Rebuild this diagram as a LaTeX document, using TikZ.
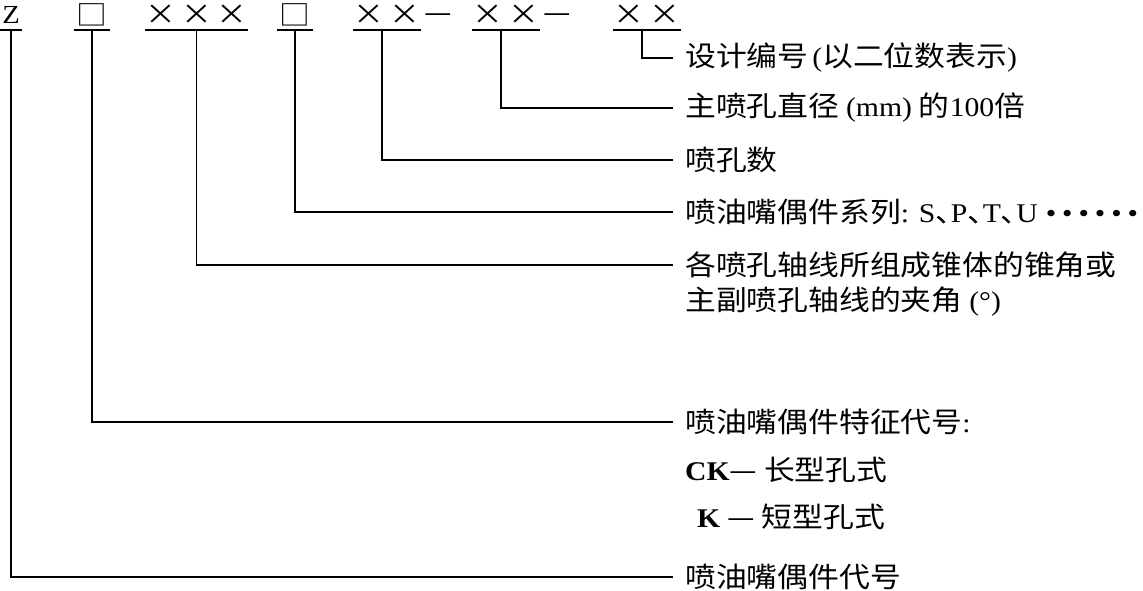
\documentclass[tikz,border=0pt]{standalone}
\usepackage{fontspec}
\setmainfont[FakeStretch=1.1]{Liberation Serif}
\newfontfamily\cjk[FakeStretch=1.1]{Noto Sans CJK SC}
\newfontfamily\cjkhalf[FakeStretch=1.1,RawFeature=+halt]{Noto Sans CJK SC}
\usetikzlibrary{positioning}
\newcommand\dun{{\cjkhalf 、}}
\newcommand\lat[1]{{\rmfamily\fontsize{27}{30}\selectfont #1}}

\begin{document}
\begin{tikzpicture}[
  x=1pt, y=-1pt,
  code/.style={inner sep=0pt, minimum height=30pt, font=\cjk\fontsize{28}{30}\selectfont},
  lab/.style={anchor=west, inner xsep=12pt, inner ysep=0pt, font=\cjk\fontsize{28}{34}\selectfont},
  ln/.style={draw=black, line width=1.8pt},
]
\useasboundingbox (0,0) rectangle (1143,591);

% ---- code row ----
\node[code, minimum width=22pt] (z) at (11,15) {\rmfamily\fontsize{26}{28}\selectfont Z};
\node[code, minimum width=36pt] (sqa) at (92,15) {□};
\node[code, minimum width=103pt] (xxx) at (196.5,15) {×\hspace{5pt}×\hspace{5pt}×};
\node[code, minimum width=36pt] (sqb) at (295,15) {□};
\node[code, minimum width=68pt] (xxa) at (387,15) {×\hspace{5pt}×};
\node[code, minimum width=68pt] (xxb) at (506,15) {×\hspace{5pt}×};
\node[code, minimum width=68pt] (xxc) at (647,15) {×\hspace{5pt}×};
\node[code, minimum height=20pt] (dsa) at (438,18) {—};
\node[code, minimum height=20pt] (dsb) at (557,18) {—};
\foreach \n in {z,sqa,xxx,sqb,xxa,xxb,xxc}
  \draw[ln] (\n.south west) -- (\n.south east);

% ---- labels ----
\node[lab] (lab1) at (673,58) {设计编号\hspace{4pt}\lat{(}以二位数表示\lat{)}};
\node[lab] (lab2) at (673,108) {主喷孔直径 \lat{(mm)} 的\lat{100}倍};
\node[lab] (lab3) at (673,160) {喷孔数};
\node[lab] (lab4) at (673,212) {喷油嘴偶件系列\lat{: S}\dun\lat{P}\dun\lat{T}\dun\lat{U\hspace{8pt}•\hspace{6pt}•\hspace{6pt}•\hspace{6pt}•\hspace{6pt}•\hspace{6pt}•}};
\node[lab] (lab5) at (673,265) {各喷孔轴线所组成锥体的锥角或};
\node[lab, below=8pt of lab5.south west, anchor=north west] (lab5b) {主副喷孔轴线的夹角 \lat{(°)}};
\node[lab] (lab6) at (673,422) {喷油嘴偶件特征代号\lat{:}};
\node[lab] (lab6a) at (673,470) {\lat{\bfseries CK}— 长型孔式};
\node[lab] (lab6b) at (685,517) {\lat{\bfseries K} — 短型孔式};
\node[lab] (lab7) at (673,577) {喷油嘴偶件代号};

% ---- leaders ----
\draw[ln] ([xshift=-5pt]xxc.south) |- (lab1.west);
\draw[ln] ([xshift=-5pt]xxb.south) |- (lab2.west);
\draw[ln] ([xshift=-5pt]xxa.south) |- (lab3.west);
\draw[ln] (sqb.south) |- (lab4.west);
\draw[ln] (xxx.south) |- (lab5.west);
\draw[ln] (sqa.south) |- (lab6.west);
\draw[ln] (z.south) |- (lab7.west);
\end{tikzpicture}
\end{document}
